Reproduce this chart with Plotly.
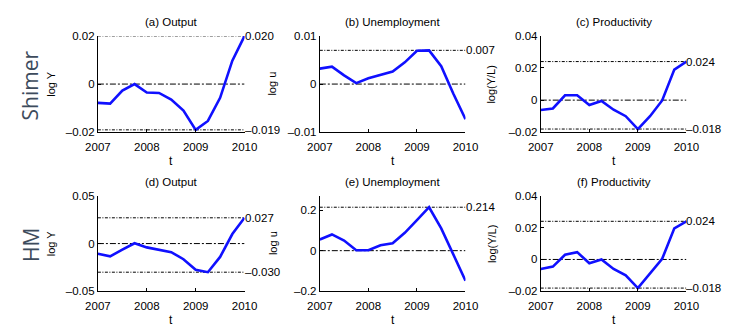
import plotly.graph_objects as go

# Quarterly observations, 2007Q1 .. 2010Q1
quarters = [2007.0, 2007.25, 2007.5, 2007.75, 2008.0, 2008.25, 2008.5,
            2008.75, 2009.0, 2009.25, 2009.5, 2009.75, 2010.0]

# Shimer calibration
shimer_output = [-0.0078, -0.0081, -0.0027, 0.0000, -0.0035, -0.0037, -0.0064,
                 -0.0110, -0.0190, -0.0153, -0.0057, 0.0097, 0.0200]
shimer_unemp = [0.0032, 0.0036, 0.0018, 0.0002, 0.0012, 0.0019, 0.0026,
                0.0045, 0.0069, 0.0070, 0.0037, -0.0020, -0.0073]
shimer_prod = [-0.0062, -0.0052, 0.0030, 0.0030, -0.0030, -0.0005, -0.0060,
               -0.0100, -0.0180, -0.0100, -0.0002, 0.0190, 0.0240]

# HM calibration
hm_output = [-0.0107, -0.0134, -0.0064, 0.0003, -0.0040, -0.0067, -0.0090,
             -0.0164, -0.0275, -0.0300, -0.0140, 0.0100, 0.0270]
hm_unemp = [0.055, 0.080, 0.050, 0.002, 0.002, 0.027, 0.037,
            0.088, 0.150, 0.214, 0.110, -0.015, -0.148]
hm_prod = [-0.0060, -0.0045, 0.0030, 0.0046, -0.0024, 0.0000, -0.0060,
           -0.0100, -0.0180, -0.0090, 0.0004, 0.0196, 0.0240]

titles = ["(a) Output", "(b) Unemployment", "(c) Productivity",
          "(d) Output", "(e) Unemployment", "(f) Productivity"]
ylabels = ["log Y", "log u", "log(Y/L)", "log Y", "log u", "log(Y/L)"]
row_labels = ["Shimer", "HM"]

x_tickvals = [2007, 2008, 2009, 2010]
x_ticktext = ["2007", "2008", "2009", "2010"]

y_tickvals = [[-0.02, 0, 0.02], [-0.01, 0, 0.01], [-0.02, 0, 0.02, 0.04],
              [-0.05, 0, 0.05], [-0.2, 0, 0.2], [-0.02, 0, 0.02, 0.04]]
y_ticktext = [["\u20130.02", "0", "0.02"], ["\u20130.01", "0", "0.01"],
              ["\u20130.02", "0", "0.02", "0.04"],
              ["\u20130.05", "0", "0.05"], ["\u20130.2", "0", "0.2"],
              ["\u20130.02", "0", "0.02", "0.04"]]
y_ranges = [[-0.02, 0.02], [-0.01, 0.01], [-0.02, 0.04],
            [-0.05, 0.05], [-0.2, 0.27], [-0.02, 0.04]]

# Peak / trough reference levels per panel
ref_levels = [[0.020, -0.019], [0.007], [0.024, -0.018],
              [0.027, -0.030], [0.214], [0.024, -0.018]]

series = [shimer_output, shimer_unemp, shimer_prod, hm_output, hm_unemp, hm_prod]

W, H = 739, 331
# panel boxes in pixels: (left, right) and (top, bottom)
col_px = [(88, 240), (318, 469), (547, 698)]
row_px = [(31, 131), (197, 296)]
ylabel_x = [39, 269, 496]

FONT = "Liberation Sans, Arial, Helvetica, sans-serif"

fig = go.Figure()
annotations = []
shapes = []

for i, ys in enumerate(series):
    r, c = divmod(i, 3)
    n = i + 1
    xa = "x" if n == 1 else f"x{n}"
    ya = "y" if n == 1 else f"y{n}"
    xl, xr = col_px[c]
    yt, yb = row_px[r]

    fig.add_trace(go.Scatter(x=quarters, y=ys, mode="lines",
                             line=dict(color="#1010ff", width=2.6),
                             xaxis=xa, yaxis=ya, showlegend=False,
                             hoverinfo="skip"))

    # zero line
    shapes.append(dict(type="line", xref=xa, yref=ya, x0=2007, x1=2010,
                       y0=0, y1=0, layer="below",
                       line=dict(color="black", width=1, dash="6px,2px,2px,2px")))
    # extreme value lines with value labels
    for lv in ref_levels[i]:
        shapes.append(dict(type="line", xref=xa, yref=ya, x0=2007, x1=2010,
                           y0=lv, y1=lv, layer="below",
                           line=dict(color="black", width=1, dash="3px,1.5px,1px,1.5px")))
        txt = f"{abs(lv):.3f}"
        if lv < 0:
            txt = "\u2013" + txt
        annotations.append(dict(x=2010, y=lv, xref=xa, yref=ya, text=txt,
                                showarrow=False, xanchor="left", yanchor="middle",
                                xshift=-2, font=dict(size=11.5, color="black", family=FONT)))

    xkey = "xaxis" if n == 1 else f"xaxis{n}"
    ykey = "yaxis" if n == 1 else f"yaxis{n}"
    fig.layout[xkey] = dict(domain=[xl / W, xr / W], anchor=ya,
                            range=[2007, 2010], tickvals=x_tickvals, ticktext=x_ticktext,
                            showline=True, linecolor="black", linewidth=1,
                            ticks="inside", ticklen=3, tickcolor="black",
                            showgrid=False, zeroline=False, ticklabelstandoff=4,
                            tickfont=dict(size=11.5, family=FONT, color="black"))
    fig.layout[ykey] = dict(domain=[1 - yb / H, 1 - yt / H], anchor=xa,
                            range=y_ranges[i], tickvals=y_tickvals[i], ticktext=y_ticktext[i],
                            showline=True, linecolor="black", linewidth=1,
                            ticks="inside", ticklen=3, tickcolor="black",
                            showgrid=False, zeroline=False,
                            tickfont=dict(size=11.5, family=FONT, color="black"))

    # panel title
    annotations.append(dict(x=(xl + xr) / 2 / W, y=1 - (yt - 14) / H, xref="paper", yref="paper",
                            text=titles[i], showarrow=False, xanchor="center", yanchor="middle",
                            font=dict(size=11.5, family=FONT, color="black")))
    # x label
    annotations.append(dict(x=(xl + xr) / 2 / W, y=1 - (yb + 30) / H, xref="paper", yref="paper",
                            text="t", showarrow=False, xanchor="center", yanchor="middle",
                            font=dict(size=12, family=FONT, color="black")))
    # y label
    annotations.append(dict(x=ylabel_x[c] / W, y=1 - (yt + yb) / 2 / H, xref="paper", yref="paper",
                            text=ylabels[i], showarrow=False, textangle=-90,
                            xanchor="center", yanchor="middle",
                            font=dict(size=11, family=FONT, color="black")))

# row labels
for r, lab in enumerate(row_labels):
    yt, yb = row_px[r]
    annotations.append(dict(x=18 / W, y=1 - ((yt + yb) / 2 + 1) / H, xref="paper", yref="paper",
                            text=lab, showarrow=False, textangle=-90,
                            xanchor="center", yanchor="middle",
                            font=dict(size=21, family="Open Sans, sans-serif", color="#3d4b5c")))

fig.update_layout(width=W, height=H, margin=dict(l=0, r=0, t=0, b=0),
                  paper_bgcolor="white", plot_bgcolor="white",
                  annotations=annotations, shapes=shapes)

fig.write_html("out.html")
